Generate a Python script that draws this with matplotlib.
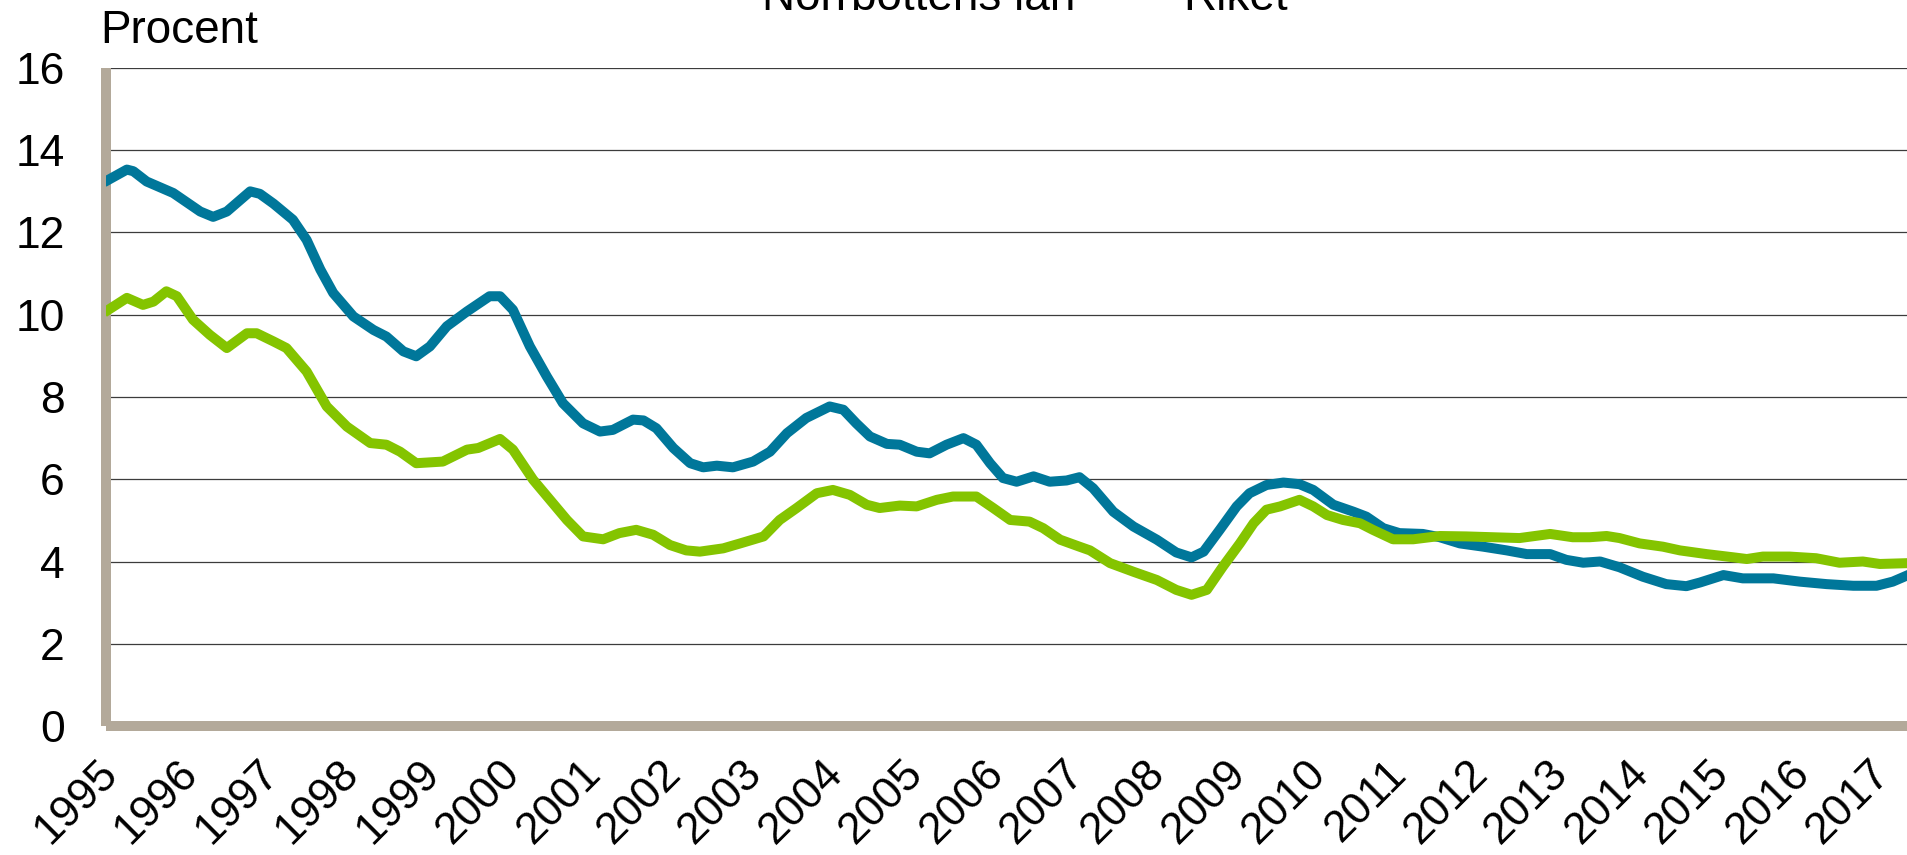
import matplotlib.pyplot as plt
import matplotlib.transforms as mtransforms
from matplotlib.lines import Line2D
from matplotlib.legend_handler import HandlerLine2D

plt.rcParams['font.family'] = ['Liberation Sans', 'DejaVu Sans']

# tick labels on the x axis (one per year)
years = list(range(1995, 2018))

# Norrbottens län, unemployment in percent (decimal years)
norrbotten_x = [1994.98, 1995.21, 1995.29, 1995.455, 1995.785, 1996.12, 1996.28, 1996.45, 1996.74, 1996.86,
                1997.03, 1997.27, 1997.44, 1997.61, 1997.77, 1998.02, 1998.27, 1998.43, 1998.64, 1998.80,
                1998.97, 1999.18, 1999.43, 1999.71, 1999.84, 2000.00, 2000.21, 2000.42, 2000.62, 2000.87,
                2001.08, 2001.24, 2001.49, 2001.62, 2001.78, 2001.99, 2002.20, 2002.36, 2002.53, 2002.73,
                2002.98, 2003.19, 2003.40, 2003.64, 2003.93, 2004.10, 2004.26, 2004.43, 2004.64, 2004.80,
                2005.01, 2005.17, 2005.38, 2005.59, 2005.75, 2005.92, 2006.08, 2006.25, 2006.46, 2006.66,
                2006.87, 2007.03, 2007.20, 2007.45, 2007.70, 2007.99, 2008.23, 2008.42, 2008.57, 2008.77,
                2008.98, 2009.14, 2009.35, 2009.56, 2009.76, 2009.93, 2010.18, 2010.43, 2010.59, 2010.80,
                2011.00, 2011.29, 2011.50, 2011.75, 2012.04, 2012.33, 2012.58, 2012.87, 2013.07, 2013.28,
                2013.49, 2013.73, 2014.02, 2014.31, 2014.56, 2014.73, 2015.02, 2015.26, 2015.64, 2015.97,
                2016.30, 2016.63, 2016.92, 2017.12, 2017.31]
norrbotten_y = [13.28, 13.53, 13.49, 13.24, 12.96, 12.51, 12.38, 12.51, 13.0, 12.94,
                12.70, 12.31, 11.82, 11.1, 10.53, 9.96, 9.63, 9.47, 9.11, 8.99,
                9.23, 9.72, 10.08, 10.45, 10.45, 10.12, 9.23, 8.5, 7.85, 7.36,
                7.16, 7.20, 7.45, 7.43, 7.24, 6.76, 6.39, 6.29, 6.33, 6.29,
                6.43, 6.67, 7.12, 7.49, 7.77, 7.69, 7.36, 7.04, 6.86, 6.84,
                6.67, 6.63, 6.84, 7.0, 6.84, 6.39, 6.03, 5.94, 6.07, 5.94,
                5.97, 6.05, 5.78, 5.21, 4.85, 4.53, 4.22, 4.10, 4.24, 4.77,
                5.34, 5.66, 5.86, 5.92, 5.88, 5.74, 5.38, 5.21, 5.09, 4.81,
                4.69, 4.67, 4.59, 4.44, 4.36, 4.27, 4.18, 4.18, 4.04, 3.97,
                4.0, 3.86, 3.63, 3.45, 3.40, 3.49, 3.67, 3.59, 3.59, 3.51,
                3.45, 3.41, 3.41, 3.51, 3.67]

# Riket
riket_x = [1994.98, 1995.21, 1995.41, 1995.54, 1995.70, 1995.83, 1996.03, 1996.24, 1996.45, 1996.70,
           1996.82, 1997.03, 1997.19, 1997.44, 1997.69, 1997.94, 1998.23, 1998.43, 1998.60, 1998.80,
           1999.13, 1999.43, 1999.57, 1999.84, 2000.00, 2000.25, 2000.46, 2000.67, 2000.87, 2001.12,
           2001.32, 2001.53, 2001.74, 2001.95, 2002.15, 2002.32, 2002.61, 2002.82, 2003.11, 2003.31,
           2003.52, 2003.77, 2003.97, 2004.18, 2004.39, 2004.55, 2004.80, 2005.01, 2005.26, 2005.46,
           2005.75, 2005.96, 2006.17, 2006.41, 2006.58, 2006.79, 2007.03, 2007.16, 2007.41, 2007.70,
           2007.99, 2008.23, 2008.42, 2008.61, 2008.81, 2009.02, 2009.19, 2009.35, 2009.52, 2009.76,
           2009.93, 2010.10, 2010.30, 2010.51, 2010.67, 2010.92, 2011.17, 2011.50, 2011.83, 2012.16,
           2012.49, 2012.87, 2013.15, 2013.36, 2013.57, 2013.73, 2013.98, 2014.27, 2014.48, 2014.81,
           2015.15, 2015.31, 2015.51, 2015.84, 2016.17, 2016.46, 2016.75, 2016.96, 2017.31]
riket_y = [10.12, 10.41, 10.24, 10.32, 10.57, 10.45, 9.88, 9.51, 9.19, 9.55,
           9.55, 9.35, 9.19, 8.62, 7.77, 7.28, 6.88, 6.84, 6.67, 6.39,
           6.43, 6.72, 6.76, 6.98, 6.72, 5.99, 5.5, 5.01, 4.61, 4.54,
           4.69, 4.77, 4.65, 4.40, 4.27, 4.24, 4.32, 4.44, 4.61, 5.01,
           5.30, 5.66, 5.74, 5.62, 5.38, 5.30, 5.36, 5.34, 5.5, 5.58,
           5.58, 5.30, 5.01, 4.97, 4.81, 4.53, 4.36, 4.27, 3.96, 3.75,
           3.55, 3.31, 3.19, 3.31, 3.88, 4.44, 4.93, 5.26, 5.34, 5.50,
           5.34, 5.13, 5.01, 4.93, 4.77, 4.54, 4.54, 4.62, 4.61, 4.59,
           4.57, 4.67, 4.59, 4.59, 4.62, 4.57, 4.44, 4.36, 4.27, 4.18,
           4.10, 4.06, 4.12, 4.12, 4.08, 3.97, 4.00, 3.94, 3.96]

BLUE = '#00779a'
GREEN = '#84c400'
WALL = '#b3a99a'


class LowLineHandler(HandlerLine2D):
    """Legend line drawn a little lower than matplotlib's default, closer to the baseline."""
    def create_artists(self, legend, orig_handle, xdescent, ydescent, width, height, fontsize, trans):
        artists = super().create_artists(legend, orig_handle, xdescent, ydescent,
                                         width, height, fontsize, trans)
        for a in artists:
            a.set_ydata([y - 3.2 for y in a.get_ydata()])
        return artists


W, H = 1908, 855
fig = plt.figure(figsize=(W / 100, H / 100), dpi=100)
ax = fig.add_axes([106.5 / W, 1 - 726 / H, 1 - 106.5 / W, (726 - 68) / H])

ax.plot(norrbotten_x, norrbotten_y, color=BLUE, lw=7.2, solid_joinstyle='round', zorder=3)
ax.plot(riket_x, riket_y, color=GREEN, lw=7.2, solid_joinstyle='round', zorder=3)

ax.set_yticks(range(0, 17, 2))
ax.set_xticks(years)
ax.set_xticklabels([str(y) for y in years])
ax.set_ylim(0, 16)
ax.set_xlim(1994.957, 2017.31)
ax.yaxis.grid(True, color='#3c3c3c', lw=0.9)
ax.set_axisbelow(True)

ax.tick_params(axis='y', length=0, pad=30, labelsize=32)
ax.tick_params(axis='x', length=0, pad=19, labelsize=32)

# year labels sit slightly left of the year start, as in the original
shift = mtransforms.ScaledTranslation(-13.5 / 100, 0, fig.dpi_scale_trans)
for lab in ax.get_xticklabels():
    lab.set_rotation(45)
    lab.set_ha('right')
    lab.set_va('top')
    lab.set_rotation_mode('anchor')
    lab.set_transform(lab.get_transform() + shift)

for side in ['top', 'right']:
    ax.spines[side].set_visible(False)
for side in ['left', 'bottom']:
    ax.spines[side].set_color(WALL)
    ax.spines[side].set_linewidth(7.2)
    ax.spines[side].set_capstyle('butt')

fig.text(100 / W, 1 - 43 / H, 'Procent', fontsize=33, va='baseline')

# legend sits mostly above the top edge, as in the cropped original
handles = [Line2D([], [], color=BLUE, lw=7.2), Line2D([], [], color=GREEN, lw=7.2)]
fig.legend(handles, ['Norrbottens län', 'Riket'], loc='center', bbox_to_anchor=(0.521, 1.002),
           ncol=2, frameon=False, fontsize=33, handlelength=1.2, handletextpad=0.15,
           columnspacing=1.0, handler_map={Line2D: LowLineHandler()})

fig.savefig('out.png', dpi=100)
